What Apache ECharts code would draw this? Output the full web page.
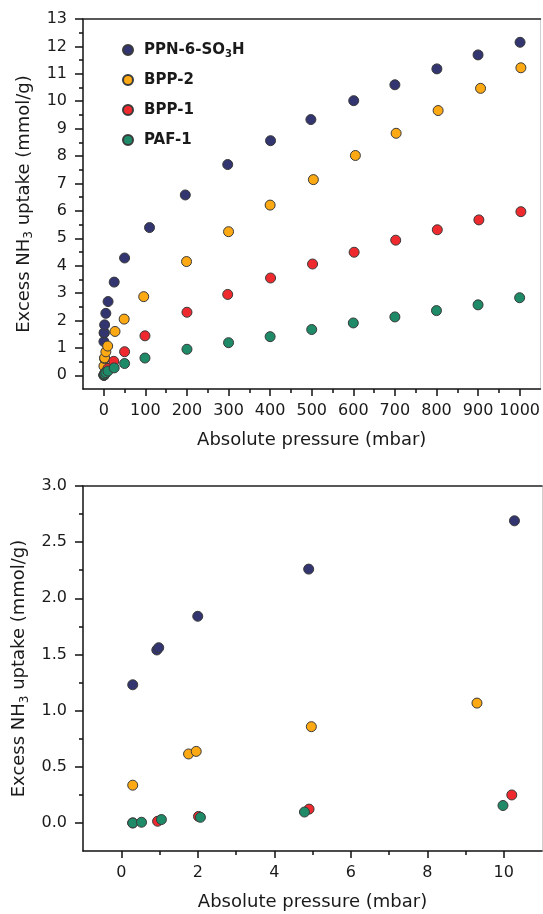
<!DOCTYPE html>
<html>
<head>
<meta charset="utf-8">
<script src="https://cdn.jsdelivr.net/npm/echarts@6/dist/echarts.min.js"></script>
<style>
  html, body { margin: 0; padding: 0; background: #fff; }
  #chart { width: 543px; height: 914px; }
</style>
</head>
<body>
<div id="chart"></div>
<script>
// [pressure (mbar), excess NH3 uptake (mmol/g)]
const ppnData = [
  [0.3, 1.23], [0.93, 1.54], [0.98, 1.56], [2.0, 1.84], [4.9, 2.26], [10.28, 2.69],
  [25, 3.4], [50, 4.28], [110, 5.39], [196, 6.58], [298, 7.69], [401, 8.56],
  [498, 9.33], [601, 10.02], [700, 10.6], [801, 11.18], [900, 11.69], [1001, 12.15]
];
const bpp2Data = [
  [0.3, 0.336], [1.76, 0.614], [1.96, 0.637], [4.97, 0.857], [9.3, 1.067],
  [27, 1.6], [49, 2.05], [96, 2.87], [199, 4.15], [300, 5.24], [400, 6.21],
  [504, 7.14], [605, 8.02], [703, 8.83], [804, 9.66], [906, 10.47], [1003, 11.22]
];
const bpp1Data = [
  [0.3, 0.0], [0.95, 0.015], [2.02, 0.058], [4.91, 0.123], [10.21, 0.249],
  [24, 0.51], [50, 0.86], [99, 1.44], [200, 2.3], [298, 2.95], [401, 3.55],
  [502, 4.06], [602, 4.49], [702, 4.93], [802, 5.31], [902, 5.67], [1003, 5.97]
];
const paf1Data = [
  [0.3, 0.0], [0.53, 0.006], [1.05, 0.03], [2.07, 0.05], [4.79, 0.097], [9.98, 0.155],
  [25, 0.27], [50, 0.43], [99, 0.63], [200, 0.95], [300, 1.19], [400, 1.41],
  [500, 1.67], [600, 1.91], [700, 2.13], [800, 2.36], [900, 2.57], [1000, 2.83]
];

const seriesNames = ['PPN-6-SO3H', 'BPP-2', 'BPP-1', 'PAF-1'];
const seriesColors = ['#32356f', '#fca914', '#ee2a2f', '#1e8a68'];
const seriesData = [ppnData, bpp2Data, bpp1Data, paf1Data];

// tick labels
const topXTicks = [0, 100, 200, 300, 400, 500, 600, 700, 800, 900, 1000];
const topXMinor = [50, 150, 250, 350, 450, 550, 650, 750, 850, 950];
const topYTicks = [0, 1, 2, 3, 4, 5, 6, 7, 8, 9, 10, 11, 12, 13];
const topYMinor = [0.5, 1.5, 2.5, 3.5, 4.5, 5.5, 6.5, 7.5, 8.5, 9.5, 10.5, 11.5, 12.5];
const botXTicks = [0, 2, 4, 6, 8, 10];
const botXMinor = [1, 3, 5, 7, 9];
const botYTicks = [0, 0.5, 1.0, 1.5, 2.0, 2.5, 3.0];
const botYMinor = [0.25, 0.75, 1.25, 1.75, 2.25, 2.75];

const FONT = 'DejaVu Sans';
const TXT = '#1a1a1a';

const nameStyle = {
  fontFamily: FONT, fontSize: 18, color: TXT, lineHeight: 22,
  rich: { sub: { fontFamily: FONT, fontSize: 12, color: TXT, lineHeight: 18, verticalAlign: 'bottom' } }
};

function plain(v) { return String(v); }

function mainX(grid, min, max, ticks, fmt) {
  return {
    type: 'value', gridIndex: grid, min: min, max: max, position: 'bottom',
    name: 'Absolute pressure (mbar)', nameLocation: 'middle', nameGap: 40,
    nameTextStyle: nameStyle,
    axisLine: { show: true, onZero: false, lineStyle: { color: '#111', width: 1.5 } },
    axisTick: { show: true, customValues: ticks, length: 7, lineStyle: { color: '#111', width: 1.5 } },
    axisLabel: { customValues: ticks, margin: 14, fontFamily: FONT, fontSize: 16, color: TXT, formatter: fmt },
    splitLine: { show: false }
  };
}
function minorX(grid, min, max, ticks) {
  return {
    type: 'value', gridIndex: grid, min: min, max: max, position: 'bottom',
    axisLine: { show: false, onZero: false },
    axisTick: { show: true, customValues: ticks, length: 4, lineStyle: { color: '#111', width: 1.5 } },
    axisLabel: { show: false }, splitLine: { show: false }
  };
}
function borderX(grid, min, max) {
  return {
    type: 'value', gridIndex: grid, min: min, max: max, position: 'top',
    axisLine: { show: true, onZero: false, lineStyle: { color: '#222', width: 1.5 } },
    axisTick: { show: false }, axisLabel: { show: false }, splitLine: { show: false }
  };
}
function mainY(grid, min, max, ticks, fmt) {
  return {
    type: 'value', gridIndex: grid, min: min, max: max, position: 'left',
    name: 'Excess NH{sub|3} uptake (mmol/g)', nameLocation: 'middle', nameGap: 48,
    nameTextStyle: nameStyle,
    axisLine: { show: true, onZero: false, lineStyle: { color: '#111', width: 1.5 } },
    axisTick: { show: true, customValues: ticks, length: 8, lineStyle: { color: '#111', width: 1.5 } },
    axisLabel: { customValues: ticks, margin: 16, fontFamily: FONT, fontSize: 16, color: TXT, formatter: fmt },
    splitLine: { show: false }
  };
}
function minorY(grid, min, max, ticks) {
  return {
    type: 'value', gridIndex: grid, min: min, max: max, position: 'left',
    axisLine: { show: false, onZero: false },
    axisTick: { show: true, customValues: ticks, length: 4, lineStyle: { color: '#111', width: 1.5 } },
    axisLabel: { show: false }, splitLine: { show: false }
  };
}
function borderY(grid, min, max) {
  return {
    type: 'value', gridIndex: grid, min: min, max: max, position: 'right',
    axisLine: { show: true, onZero: false, lineStyle: { color: '#cfcfcf', width: 1 } },
    axisTick: { show: false }, axisLabel: { show: false }, splitLine: { show: false }
  };
}

const series = [];
[0, 1].forEach(function (g) {
  seriesNames.forEach(function (name, i) {
    series.push({
      name: name, type: 'scatter',
      xAxisIndex: g * 3, yAxisIndex: g * 3,
      symbol: 'circle', symbolSize: 10,
      itemStyle: { color: seriesColors[i], borderColor: '#3a3a3a', borderWidth: 1, opacity: 1 },
      data: seriesData[i]
    });
  });
});

const chart = echarts.init(document.getElementById('chart'), null, { renderer: 'canvas' });

const option = {
  animation: false,
  backgroundColor: '#fff',
  grid: [
    { left: 83, top: 19, width: 459, height: 370 },
    { left: 83, top: 486, width: 459, height: 371 }
  ],
  legend: {
    data: seriesNames,
    orient: 'vertical', left: 117, top: 36,
    itemWidth: 10, itemHeight: 10, itemGap: 12,
    icon: 'circle',
    formatter: function (n) { return n.replace('SO3H', 'SO{sub|3}H'); },
    textStyle: {
      fontFamily: FONT, fontSize: 15, fontWeight: 'bold', color: TXT, lineHeight: 18,
      padding: [0, 0, 0, 6],
      rich: { sub: { fontFamily: FONT, fontSize: 10, fontWeight: 'bold', color: TXT, lineHeight: 14, verticalAlign: 'bottom' } }
    }
  },
  xAxis: [
    mainX(0, -50, 1050, topXTicks, plain),
    minorX(0, -50, 1050, topXMinor),
    borderX(0, -50, 1050),
    mainX(1, -1, 11, botXTicks, plain),
    minorX(1, -1, 11, botXMinor),
    borderX(1, -1, 11)
  ],
  yAxis: [
    mainY(0, -0.5, 13, topYTicks, plain),
    minorY(0, -0.5, 13, topYMinor),
    borderY(0, -0.5, 13),
    mainY(1, -0.25, 3, botYTicks, function (v) { return v.toFixed(1); }),
    minorY(1, -0.25, 3, botYMinor),
    borderY(1, -0.25, 3)
  ],
  series: series
};

chart.setOption(option);
</script>
</body>
</html>
